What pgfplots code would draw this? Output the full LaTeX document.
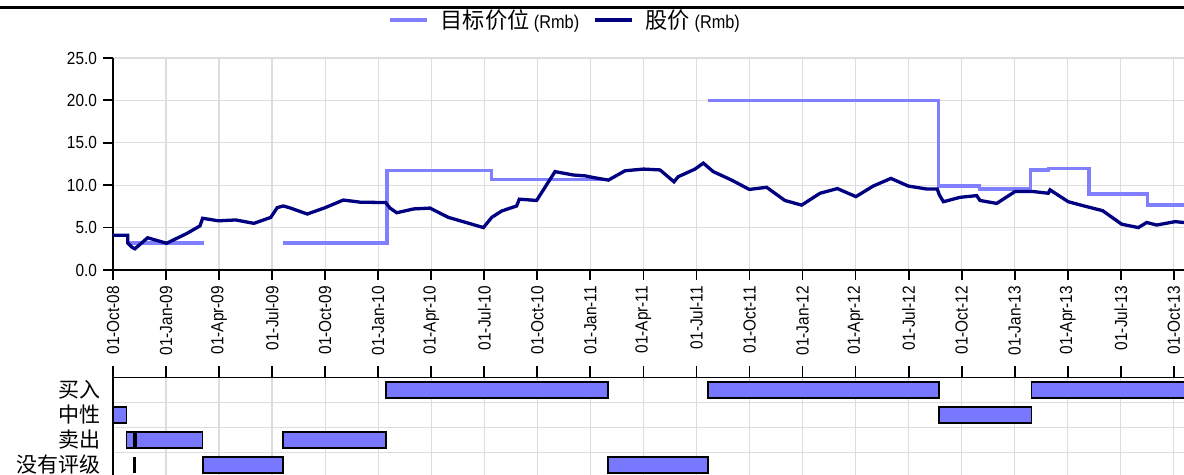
\documentclass[border=0pt]{standalone}
\usepackage{pgfplots}
\pgfplotsset{compat=1.18}
\usepackage{fontspec}
\setmainfont{Liberation Sans}[FakeStretch=0.88]
\newfontfamily\cjk{Noto Sans CJK SC}[Scale=1.2]
\definecolor{tgt}{RGB}{128,128,255}
\definecolor{stk}{RGB}{0,0,128}
\definecolor{barc}{RGB}{120,120,255}
\definecolor{gridc}{RGB}{221,221,221}
\begin{document}
\fontsize{17.5bp}{20bp}\selectfont
\begin{tikzpicture}[x=1bp,y=1bp]
\useasboundingbox (0,0) rectangle (1184,475);
\draw[black, line width=3bp] (0,467) -- (1184,467);
\begin{axis}[
  at={(113bp,205bp)}, anchor=south west, scale only axis,
  width=1071bp, height=212bp,
  xmin=0, xmax=60.58, ymin=0, ymax=25,
  axis x line=bottom, axis y line=left,
  axis line style={-, line width=1.8bp, black},
  xtick={0,3,...,60},
  xticklabels={01-Oct-08,01-Jan-09,01-Apr-09,01-Jul-09,01-Oct-09,01-Jan-10,01-Apr-10,01-Jul-10,01-Oct-10,01-Jan-11,01-Apr-11,01-Jul-11,01-Oct-11,01-Jan-12,01-Apr-12,01-Jul-12,01-Oct-12,01-Jan-13,01-Apr-13,01-Jul-13,01-Oct-13},
  x tick label style={rotate=90, anchor=east},
  ytick={0,5,...,25},
  yticklabel style={/pgf/number format/.cd, fixed, fixed zerofill, precision=1, assume math mode=true},
  tick align=outside, major tick length=10bp,
  tick style={black, line width=1.8bp},
  grid=major, grid style={gridc, line width=1.3bp},
  unbounded coords=jump,
  legend columns=2,
  legend style={at={(0.422,1.179)}, anchor=center, draw=none, fill=none,
    font=\fontsize{18.5bp}{22bp}\selectfont,
    /tikz/every even column/.append style={column sep=12bp}},
  legend image code/.code={\draw[#1, line width=3.5bp] (0bp,0bp) -- (37bp,0bp);},
]
\addplot[tgt, line width=3.3bp, mark=none] coordinates {
(0.8,3.2) (5.15,3.2) (7,nan)
(9.6,3.2) (15.5,3.2) (15.5,11.7) (21.4,11.7) (21.4,10.7) (28.0,10.7) (30,nan)
(33.65,20.0) (46.7,20.0) (46.7,9.9) (49.0,9.9) (49.0,9.55) (51.9,9.55) (51.9,11.8) (52.9,11.8) (52.9,12.0) (55.2,12.0) (55.2,8.96) (58.5,8.96) (58.5,7.66) (61,7.66)
};
\addlegendentry{\hspace{10bp}{\cjk 目标价位} (Rmb)}
\addplot[stk, line width=3.3bp, mark=none] coordinates {
(0,4.1) (0.83,4.1) (0.83,3.2) (1.06,2.7) (1.24,2.5) (1.96,3.8) (3.03,3.15) (4.17,4.3) (4.92,5.2) (5.07,6.1) (5.96,5.8) (6.94,5.9) (7.97,5.5) (8.92,6.2) (9.29,7.35) (9.63,7.55) (9.97,7.35) (10.99,6.6) (12.0,7.35) (13.03,8.25) (13.97,8.0) (15.42,7.95) (15.67,7.3) (16.05,6.75) (17.0,7.2) (17.93,7.3) (18.97,6.2) (19.97,5.6) (20.95,5.0) (21.42,6.2) (21.98,6.95) (22.83,7.55) (22.98,8.35) (23.96,8.2) (25.0,11.6) (26.04,11.2) (26.7,11.1) (27.17,10.9) (28.02,10.6) (28.96,11.7) (30.0,11.9) (30.94,11.8) (31.73,10.4) (31.97,11.0) (32.92,11.9) (33.39,12.6) (33.95,11.6) (34.99,10.6) (35.99,9.5) (36.97,9.75) (38.0,8.2) (38.95,7.65) (39.99,9.05) (40.97,9.6) (42.02,8.65) (43.0,9.9) (44.0,10.8) (44.98,9.9) (46.02,9.55) (46.62,9.55) (46.74,8.85) (46.97,8.05) (47.91,8.57) (48.85,8.77) (49.04,8.2) (49.98,7.85) (51.02,9.25) (52.05,9.25) (52.9,9.05) (53.0,9.45) (54.03,8.05) (55.07,7.47) (55.97,7.0) (57.05,5.4) (57.99,5.0) (58.47,5.6) (59.03,5.3) (60.07,5.7) (60.58,5.6) (61,5.6)
};
\addlegendentry{\hspace{10bp}{\cjk 股价} (Rmb)}
\end{axis}
\begin{axis}[
  at={(113bp,-2.5bp)}, anchor=south west, scale only axis,
  width=1071bp, height=100bp,
  xmin=0, xmax=60.58, ymin=0.5, ymax=4.5,
  axis x line=top, axis y line=left,
  axis line style={-, line width=1.8bp, black},
  xtick={0,3,...,60}, xticklabels={},
  ytick={1,2,3,4}, yticklabels={没有评级,卖出,中性,买入},
  yticklabel style={font=\cjk, xshift=5bp},
  minor ytick={1.5,2.5,3.5},
  tick align=outside, major tick length=11bp,
  x tick style={black, line width=1.8bp},
  y tick style={draw=none},
  minor tick length=0bp,
  xmajorgrids=true, yminorgrids=true,
  grid style={gridc, line width=1.3bp},
  minor grid style={gridc, line width=1.3bp},
  bar/.style={fill=barc, draw=black, line width=1.5bp},
]
% 买入
\addplot[bar] coordinates {(15.43,3.68) (28.0,3.68) (28.0,4.32) (15.43,4.32)} -- cycle;
\addplot[bar] coordinates {(33.65,3.68) (46.72,3.68) (46.72,4.32) (33.65,4.32)} -- cycle;
\addplot[bar] coordinates {(51.95,3.68) (62,3.68) (62,4.32) (51.95,4.32)} -- cycle;
% 中性
\addplot[bar] coordinates {(0,2.68) (0.77,2.68) (0.77,3.32) (0,3.32)} -- cycle;
\addplot[bar] coordinates {(46.72,2.68) (51.95,2.68) (51.95,3.32) (46.72,3.32)} -- cycle;
% 卖出
\addplot[bar] coordinates {(0.77,1.68) (1.18,1.68) (1.18,2.32) (0.77,2.32)} -- cycle;
\addplot[bar] coordinates {(1.3,1.68) (5.05,1.68) (5.05,2.32) (1.3,2.32)} -- cycle;
\addplot[bar] coordinates {(9.62,1.68) (15.43,1.68) (15.43,2.32) (9.62,2.32)} -- cycle;
% 没有评级
\addplot[black, line width=2.5bp] coordinates {(1.23,0.68) (1.23,1.32)};
\addplot[bar] coordinates {(5.08,0.68) (9.62,0.68) (9.62,1.32) (5.08,1.32)} -- cycle;
\addplot[bar] coordinates {(28.0,0.68) (33.65,0.68) (33.65,1.32) (28.0,1.32)} -- cycle;
\end{axis}
\end{tikzpicture}
\end{document}
